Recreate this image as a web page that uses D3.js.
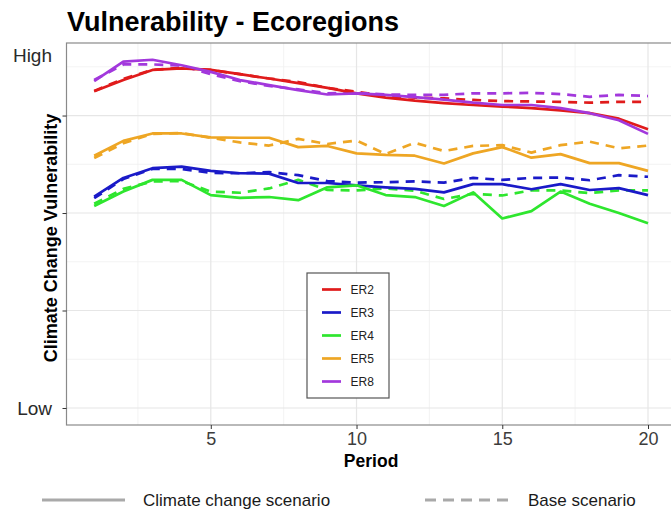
<!DOCTYPE html>
<html>
<head>
<meta charset="utf-8">
<script src="https://cdn.jsdelivr.net/npm/d3@7"></script>
<style>
  html, body { margin: 0; padding: 0; background: #fff; }
  svg { display: block; font-family: "Liberation Sans", Arial, Helvetica, sans-serif; }
</style>
</head>
<body>
<svg id="chart" width="671" height="512"></svg>
<script>
// ---- data ----
const periods = d3.range(1, 21);
const regions = ["ER2", "ER3", "ER4", "ER5", "ER8"];
const colors = ["#e01b1b", "#1a1ac8", "#2ee62e", "#eea624", "#a238dc"];

// climate change scenario (solid)
const er2Climate = [81.2, 84.1, 86.7, 87.1, 86.7, 85.6, 84.5, 83.3, 82.1, 80.7, 79.6, 78.8, 78.2, 77.7, 77.3, 76.9, 76.3, 75.6, 74.2, 71.5];
const er3Climate = [54.2, 59.0, 61.5, 61.9, 60.8, 60.2, 60.1, 57.7, 57.7, 57.1, 56.6, 56.2, 55.3, 57.4, 57.4, 56.1, 57.4, 55.9, 56.4, 54.6];
const er4Climate = [51.8, 55.5, 58.5, 58.5, 54.6, 53.9, 54.1, 53.3, 56.6, 57.1, 54.6, 54.1, 51.8, 55.3, 48.6, 50.5, 55.5, 52.4, 50.0, 47.4];
const er5Climate = [64.7, 68.5, 70.4, 70.4, 69.4, 69.3, 69.3, 66.9, 67.2, 65.3, 64.9, 64.7, 62.7, 65.3, 66.9, 64.2, 65.1, 62.8, 62.8, 60.8];
const er8Climate = [83.8, 88.8, 89.3, 87.9, 86.2, 84.1, 82.8, 81.5, 80.4, 80.7, 80.3, 79.7, 79.1, 78.3, 77.7, 77.7, 76.9, 75.6, 73.8, 70.3];

// base scenario (dashed)
const er2Base = [81.3, 84.4, 86.7, 87.3, 86.7, 85.6, 84.5, 83.6, 82.1, 81.1, 80.0, 79.6, 79.4, 79.0, 78.7, 78.6, 78.5, 78.3, 78.5, 78.5];
const er3Base = [53.8, 58.7, 61.3, 61.3, 60.3, 60.2, 60.5, 59.7, 58.2, 57.8, 57.9, 58.1, 57.8, 59.0, 58.5, 59.0, 59.1, 58.4, 59.7, 59.3];
const er4Base = [52.4, 56.2, 58.1, 58.2, 55.5, 55.2, 56.3, 58.5, 55.9, 55.8, 56.3, 55.7, 53.6, 54.9, 54.5, 55.8, 55.8, 55.1, 55.8, 55.8];
const er5Base = [64.1, 67.9, 70.3, 70.5, 69.3, 68.1, 67.3, 69.0, 67.7, 68.6, 65.1, 68.0, 65.9, 67.2, 67.4, 65.5, 67.4, 68.3, 66.6, 67.3];
const er8Base = [84.1, 88.1, 88.1, 87.8, 85.6, 83.8, 82.6, 81.7, 80.7, 80.8, 80.4, 80.3, 80.3, 80.7, 80.7, 80.8, 80.5, 79.8, 80.3, 80.0];

const climateSeries = [er2Climate, er3Climate, er4Climate, er5Climate, er8Climate];
const baseSeries = [er2Base, er3Base, er4Base, er5Base, er8Base];

const xTicks = [5, 10, 15, 20];
const xMinor = [2.5, 7.5, 12.5, 17.5];
const yTicks = [0, 25, 50, 75];
const yMinor = [12.5, 37.5, 62.5, 87.5];
const yLabels = [{v: 90.5, t: "High"}, {v: 0, t: "Low"}];
const scenarioNames = ["Climate change scenario", "Base scenario"];

// ---- layout ----
const svg = d3.select("#chart");
const x = d3.scaleLinear().domain([0.05, 20.95]).range([66.5, 675.7]);
const y = d3.scaleLinear().domain([-4.36, 93.6]).range([425, 43]);
const pL = 66.5, pR = 675.7, pT = 43, pB = 425;

// panel background
svg.append("rect").attr("x", pL).attr("y", pT).attr("width", pR - pL).attr("height", pB - pT).attr("fill", "#fff");

// gridlines
const grid = svg.append("g");
grid.selectAll(".xmin").data(xMinor).join("line")
  .attr("x1", d => x(d)).attr("x2", d => x(d)).attr("y1", pT).attr("y2", pB)
  .attr("stroke", "#f0f0f0").attr("stroke-width", 0.8);
grid.selectAll(".ymin").data(yMinor).join("line")
  .attr("y1", d => y(d)).attr("y2", d => y(d)).attr("x1", pL).attr("x2", pR)
  .attr("stroke", "#f0f0f0").attr("stroke-width", 0.8);
grid.selectAll(".xmaj").data(xTicks).join("line")
  .attr("x1", d => x(d)).attr("x2", d => x(d)).attr("y1", pT).attr("y2", pB)
  .attr("stroke", "#e6e6e6").attr("stroke-width", 1.2);
grid.selectAll(".ymaj").data(yTicks).join("line")
  .attr("y1", d => y(d)).attr("y2", d => y(d)).attr("x1", pL).attr("x2", pR)
  .attr("stroke", "#e6e6e6").attr("stroke-width", 1.2);

// lines
const line = d3.line().x((d, i) => x(periods[i])).y(d => y(d));
const lines = svg.append("g").attr("fill", "none").attr("stroke-linejoin", "round");
baseSeries.forEach((s, i) => {
  lines.append("path").datum(s).attr("d", line)
    .attr("stroke", colors[i]).attr("stroke-width", 2.7).attr("stroke-dasharray", "9,7");
});
climateSeries.forEach((s, i) => {
  lines.append("path").datum(s).attr("d", line)
    .attr("stroke", colors[i]).attr("stroke-width", 2.7);
});

// panel border
svg.append("rect").attr("x", pL).attr("y", pT).attr("width", pR - pL).attr("height", pB - pT)
  .attr("fill", "none").attr("stroke", "#8a8a8a").attr("stroke-width", 1.2);

// x axis
const xAxis = d3.axisBottom(x).tickValues(xTicks).tickSize(4).tickPadding(3);
const gx = svg.append("g").attr("transform", `translate(0,${pB})`).call(xAxis);
gx.select(".domain").remove();
gx.selectAll(".tick line").attr("stroke", "#333");
gx.selectAll(".tick text").attr("fill", "#3c3c3c").style("font-size", "18px")
  .style("font-family", "'Liberation Sans', Arial, sans-serif");

// y axis
const yAxis = d3.axisLeft(y).tickValues(yTicks).tickSize(4).tickFormat(() => "");
const gy = svg.append("g").attr("transform", `translate(${pL},0)`).call(yAxis);
gy.select(".domain").remove();
gy.selectAll(".tick line").attr("stroke", "#333");
svg.append("g").selectAll("text").data(yLabels).join("text")
  .attr("x", 52).attr("y", d => y(d.v)).attr("dy", "0.35em")
  .attr("text-anchor", "end").attr("fill", "#2a2a2a").style("font-size", "19px")
  .text(d => d.t);

// axis titles
svg.append("text").attr("x", (pL + pR) / 2).attr("y", 467).attr("text-anchor", "middle")
  .attr("font-weight", "bold").style("font-size", "17.5px").attr("fill", "#000").text("Period");
svg.append("text").attr("transform", `translate(57,238) rotate(-90)`).attr("text-anchor", "middle")
  .attr("font-weight", "bold").style("font-size", "18px").attr("fill", "#000").text("Climate Change Vulnerability");

// title
svg.append("text").attr("x", 67).attr("y", 31).attr("font-weight", "bold")
  .style("font-size", "27px").attr("fill", "#000").text("Vulnerability - Ecoregions");

// in-panel legend
const lg = svg.append("g");
lg.append("rect").attr("x", 307).attr("y", 273).attr("width", 82).attr("height", 125)
  .attr("fill", "#fff").attr("stroke", "#555").attr("stroke-width", 1.2);
regions.forEach((r, i) => {
  const yy = 289.5 + i * 23;
  lg.append("line").attr("x1", 322).attr("x2", 341).attr("y1", yy).attr("y2", yy)
    .attr("stroke", colors[i]).attr("stroke-width", 2.7);
  lg.append("text").attr("x", 350.5).attr("y", yy).attr("dy", "0.35em")
    .style("font-size", "12px").attr("fill", "#222").text(r);
});

// bottom scenario legend
const bl = svg.append("g");
bl.append("line").attr("x1", 42).attr("x2", 125).attr("y1", 500).attr("y2", 500)
  .attr("stroke", "#a9a9a9").attr("stroke-width", 3);
bl.append("text").attr("x", 143).attr("y", 500).attr("dy", "0.35em")
  .style("font-size", "17px").attr("fill", "#1a1a1a").text(scenarioNames[0]);
bl.append("line").attr("x1", 425).attr("x2", 512).attr("y1", 500).attr("y2", 500)
  .attr("stroke", "#a9a9a9").attr("stroke-width", 3).attr("stroke-dasharray", "11,7");
bl.append("text").attr("x", 528).attr("y", 500).attr("dy", "0.35em")
  .style("font-size", "17px").attr("fill", "#1a1a1a").text(scenarioNames[1]);
</script>
</body>
</html>
